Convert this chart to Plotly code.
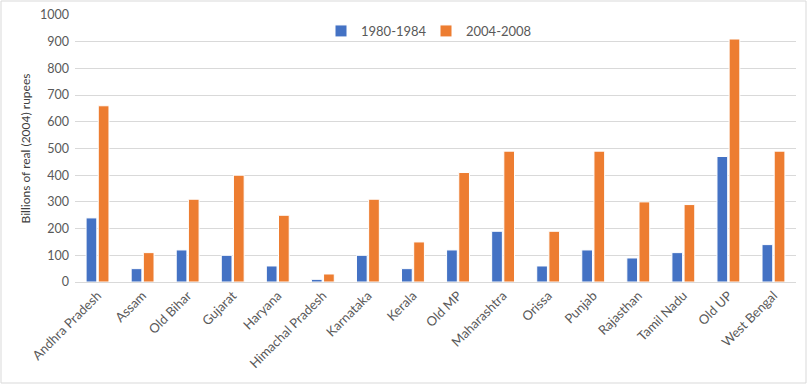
import plotly.graph_objects as go

states = ["Andhra Pradesh", "Assam", "Old Bihar", "Gujarat", "Haryana", "Himachal Pradesh",
          "Karnataka", "Kerala", "Old MP", "Maharashtra", "Orissa", "Punjab", "Rajasthan",
          "Tamil Nadu", "Old UP", "West Bengal"]
v1980 = [240, 50, 120, 100, 60, 10, 100, 50, 120, 190, 60, 120, 90, 110, 470, 140]
v2004 = [660, 110, 310, 400, 250, 30, 310, 150, 410, 490, 190, 490, 300, 290, 910, 490]
yticks = [0, 100, 200, 300, 400, 500, 600, 700, 800, 900, 1000]

W, H = 807, 384
ml, mr, mt, mb = 75, 11, 15, 102
pw, ph = W - ml - mr, H - mt - mb

fig = go.Figure()
fig.add_trace(go.Bar(x=states, y=v1980, name="1980-1984",
                     marker=dict(color="#4472C4", line=dict(color="white", width=1))))
fig.add_trace(go.Bar(x=states, y=v2004, name="2004-2008",
                     marker=dict(color="#ED7D31", line=dict(color="white", width=1))))

fig.update_layout(
    width=W, height=H,
    margin=dict(l=ml, r=mr, t=mt, b=mb, autoexpand=False),
    paper_bgcolor="white", plot_bgcolor="white",
    font=dict(family="Lato, Liberation Sans, sans-serif", size=12, color="#595959"),
    barmode="group", bargap=0.46, bargroupgap=0.12,
    legend=dict(orientation="h", x=(426 - ml) / pw, xanchor="center",
                y=(282 - 31) / ph, yanchor="middle", font=dict(size=13, color="#595959"),
                bgcolor="rgba(0,0,0,0)", entrywidth=60, entrywidthmode="pixels",
                traceorder="normal"),
    showlegend=True,
)
fig.update_yaxes(range=[0, 1000], tickvals=yticks, showgrid=True, gridcolor="#D9D9D9",
                 gridwidth=1, zeroline=False, showline=False, ticks="", automargin=False,
                 ticklabelstandoff=5,
                 tickfont=dict(size=12.5, color="#595959"),
                 title=dict(text="Billions of real (2004) rupees", font=dict(size=12, color="#404040"),
                            standoff=6))
fig.update_xaxes(tickangle=-45, showline=True, linecolor="#D9D9D9", ticks="", automargin=False,
                 tickfont=dict(size=13, color="#595959"))

fig.add_shape(type="rect", xref="paper", yref="paper",
              x0=-(ml - 1) / pw, x1=1 + (mr - 1) / pw,
              y0=-(mb - 1) / ph, y1=1 + (mt - 1) / ph,
              line=dict(color="#D9D9D9", width=1), fillcolor="rgba(0,0,0,0)", layer="below")

fig.write_html("out.html", config={"displayModeBar": False},
               post_script="document.body.style.margin='0px';document.body.style.overflow='hidden';")
